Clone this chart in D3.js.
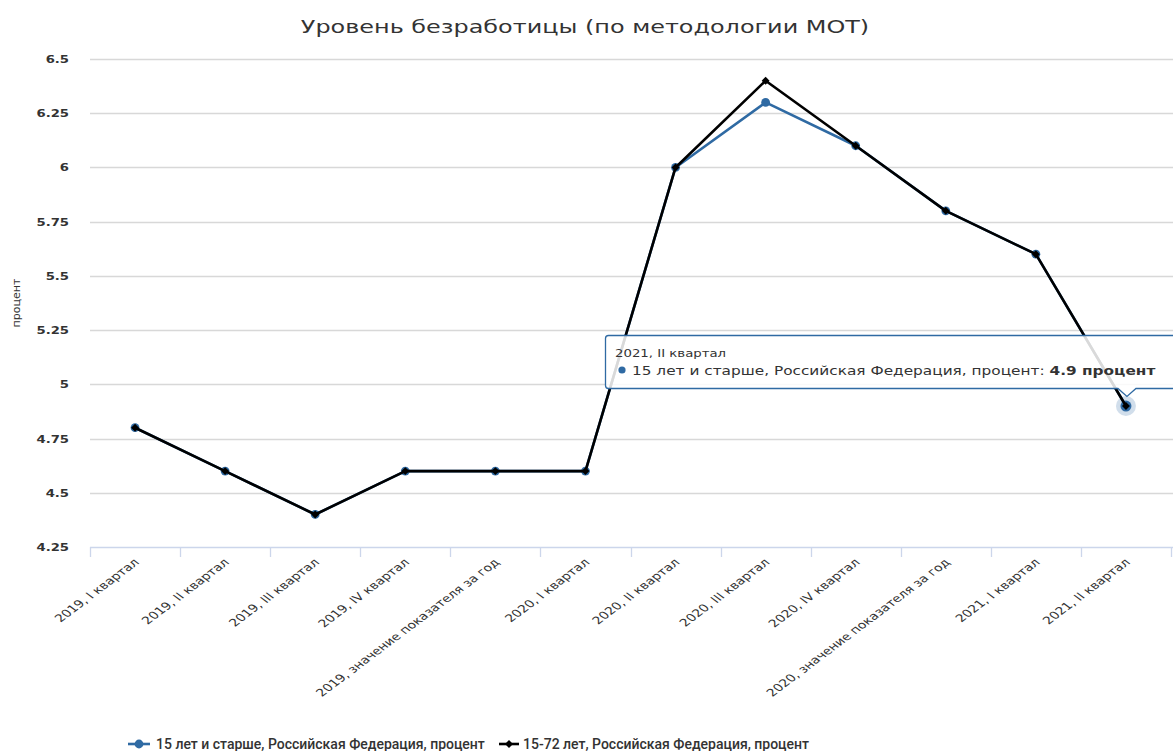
<!DOCTYPE html>
<html>
<head>
<meta charset="utf-8">
<script src="https://cdn.jsdelivr.net/npm/d3@7"></script>
<style>
  html, body { margin: 0; padding: 0; background: #fff; }
  svg { display: block; }
</style>
</head>
<body>
<svg id="chart" width="1173" height="751"></svg>
<script>
/* ── Data ──────────────────────────────────────────────────────────────── */
const categories = [
  '2019, I квартал', '2019, II квартал', '2019, III квартал', '2019, IV квартал',
  '2019, значение показателя за год',
  '2020, I квартал', '2020, II квартал', '2020, III квартал', '2020, IV квартал',
  '2020, значение показателя за год',
  '2021, I квартал', '2021, II квартал'
];
const series15plus = [4.8, 4.6, 4.4, 4.6, 4.6, 4.6, 6.0, 6.3, 6.1, 5.8, 5.6, 4.9];
const series15to72 = [4.8, 4.6, 4.4, 4.6, 4.6, 4.6, 6.0, 6.4, 6.1, 5.8, 5.6, 4.9];
const yTicks = [4.25, 4.5, 4.75, 5, 5.25, 5.5, 5.75, 6, 6.25, 6.5];
const seriesNames = [
  '15 лет и старше, Российская Федерация, процент',
  '15-72 лет, Российская Федерация, процент'
];
const hoverIndex = 11;

/* ── Constants ─────────────────────────────────────────────────────────── */
const BLUE  = '#2f6aa3';
const BLACK = '#000000';
const FONT  = '"DejaVu Sans", Verdana, sans-serif';
const SX    = 1.33;   // the source picture is stretched horizontally

const svg = d3.select('#chart');

const x = d3.scaleBand().domain(categories).range([90, 1171]).padding(0);
const cx = c => x(c) + x.bandwidth() / 2;
const y = d3.scaleLinear().domain([4.25, 6.5]).range([547, 59]);

/* ── Title ─────────────────────────────────────────────────────────────── */
svg.append('text')
  .attr('transform', `translate(585,33) scale(${SX},1)`)
  .attr('text-anchor', 'middle')
  .style('font-family', FONT).style('font-size', '18px')
  .style('fill', '#333')
  .text('Уровень безработицы (по методологии МОТ)');

/* ── Grid + y labels ───────────────────────────────────────────────────── */
svg.append('g')
  .selectAll('line')
  .data(yTicks.filter(t => t > 4.25))
  .join('line')
    .attr('x1', 90).attr('x2', 1173)
    .attr('y1', d => Math.round(y(d)) + 0.5).attr('y2', d => Math.round(y(d)) + 0.5)
    .style('stroke', '#d8d8d8').style('stroke-width', 1.3);

svg.append('g')
  .selectAll('text')
  .data(yTicks)
  .join('text')
    .attr('transform', d => `translate(69,${y(d) + 4}) scale(1.2,1)`)
    .attr('text-anchor', 'end')
    .style('font-family', FONT).style('font-size', '11px').style('font-weight', 'bold')
    .style('fill', '#333')
    .text(d => d);

svg.append('text')
  .attr('transform', 'translate(20,303) rotate(-90)')
  .attr('text-anchor', 'middle')
  .style('font-family', FONT).style('font-size', '11px').style('fill', '#333')
  .text('процент');

/* ── X axis ────────────────────────────────────────────────────────────── */
svg.append('line')
  .attr('x1', 90).attr('x2', 1173).attr('y1', 547.5).attr('y2', 547.5)
  .style('stroke', '#ccd6eb').style('stroke-width', 1.3);

const edges = categories.map(c => x(c)).concat([x(categories[categories.length - 1]) + x.bandwidth()]);
svg.append('g')
  .selectAll('line')
  .data(edges)
  .join('line')
    .attr('x1', d => Math.round(d) + 0.5).attr('x2', d => Math.round(d) + 0.5)
    .attr('y1', 547).attr('y2', 557)
    .style('stroke', '#ccd6eb').style('stroke-width', 1.3);

svg.append('g')
  .selectAll('text')
  .data(categories)
  .join('text')
    .attr('transform', d => `translate(${cx(d) + 5},563) scale(${SX},1) rotate(-45)`)
    .attr('text-anchor', 'end')
    .style('font-family', FONT).style('font-size', '10.5px').style('fill', '#333')
    .text(d => d);

/* ── Series ────────────────────────────────────────────────────────────── */
const line = d3.line().x((d, i) => cx(categories[i])).y(d => y(d));

svg.append('path').datum(series15plus)
  .attr('d', line).attr('fill', 'none')
  .attr('stroke', BLUE).attr('stroke-width', 2.6).attr('stroke-linejoin', 'round');
svg.append('g').selectAll('circle')
  .data(series15plus)
  .join('circle')
    .attr('cx', (d, i) => cx(categories[i])).attr('cy', d => y(d))
    .attr('r', 4.4).attr('fill', BLUE);

// hover halo on the highlighted point
svg.append('circle')
  .attr('cx', cx(categories[hoverIndex])).attr('cy', y(series15plus[hoverIndex]))
  .attr('r', 10).attr('fill', BLUE).attr('opacity', 0.22);
svg.append('circle')
  .attr('cx', cx(categories[hoverIndex])).attr('cy', y(series15plus[hoverIndex]))
  .attr('r', 5.5).attr('fill', BLUE);

svg.append('path').datum(series15to72)
  .attr('d', line).attr('fill', 'none')
  .attr('stroke', BLACK).attr('stroke-width', 2.6).attr('stroke-linejoin', 'round');
const diamond = d3.symbol().type(d3.symbolDiamond2).size(40);
svg.append('g').selectAll('path')
  .data(series15to72)
  .join('path')
    .attr('transform', (d, i) => `translate(${cx(categories[i])},${y(d)})`)
    .attr('d', diamond).attr('fill', BLACK);

/* ── Tooltip ───────────────────────────────────────────────────────────── */
const tx = cx(categories[hoverIndex]);
const tipPath = d3.path();
const L = 605.5, T = 335.5, R = 1190, B = 388.5, r = 3;
tipPath.moveTo(L + r, T);
tipPath.lineTo(R, T);
tipPath.lineTo(R, B);
tipPath.lineTo(tx + 10, B);
tipPath.lineTo(tx + 1, B + 8);
tipPath.lineTo(tx - 8, B);
tipPath.lineTo(L + r, B);
tipPath.quadraticCurveTo(L, B, L, B - r);
tipPath.lineTo(L, T + r);
tipPath.quadraticCurveTo(L, T, L + r, T);
tipPath.closePath();
svg.append('path')
  .attr('d', tipPath.toString())
  .attr('fill', 'rgba(255,255,255,0.85)')
  .attr('stroke', BLUE).attr('stroke-width', 1.3);

svg.append('text')
  .attr('transform', `translate(615,357) scale(${SX},1)`)
  .style('font-family', FONT).style('font-size', '10px').style('fill', '#333')
  .text(categories[hoverIndex]);
svg.append('circle').attr('cx', 622).attr('cy', 370).attr('r', 3.6).attr('fill', BLUE);
const tipText = svg.append('text')
  .attr('transform', `translate(632,374.5) scale(1.3,1)`)
  .style('font-family', FONT).style('font-size', '11.8px').style('fill', '#333');
tipText.append('tspan').text(seriesNames[0] + ': ');
tipText.append('tspan').style('font-weight', 'bold').text(series15plus[hoverIndex] + ' процент');

/* ── Legend ────────────────────────────────────────────────────────────── */
const legend = svg.append('g').style('font-family', 'Roboto, sans-serif')
  .style('font-size', '14px').style('font-weight', 500).style('fill', '#333');

legend.append('line').attr('x1', 128).attr('x2', 150).attr('y1', 744).attr('y2', 744)
  .attr('stroke', BLUE).attr('stroke-width', 2.6);
legend.append('circle').attr('cx', 139).attr('cy', 744).attr('r', 4.4).attr('fill', BLUE);
legend.append('text').attr('x', 156).attr('y', 749).text(seriesNames[0]);

legend.append('line').attr('x1', 499).attr('x2', 519).attr('y1', 744).attr('y2', 744)
  .attr('stroke', BLACK).attr('stroke-width', 2.6);
legend.append('path').attr('transform', 'translate(509,744)').attr('d', diamond).attr('fill', BLACK);
legend.append('text').attr('x', 523).attr('y', 749).text(seriesNames[1]);
</script>
</body>
</html>
